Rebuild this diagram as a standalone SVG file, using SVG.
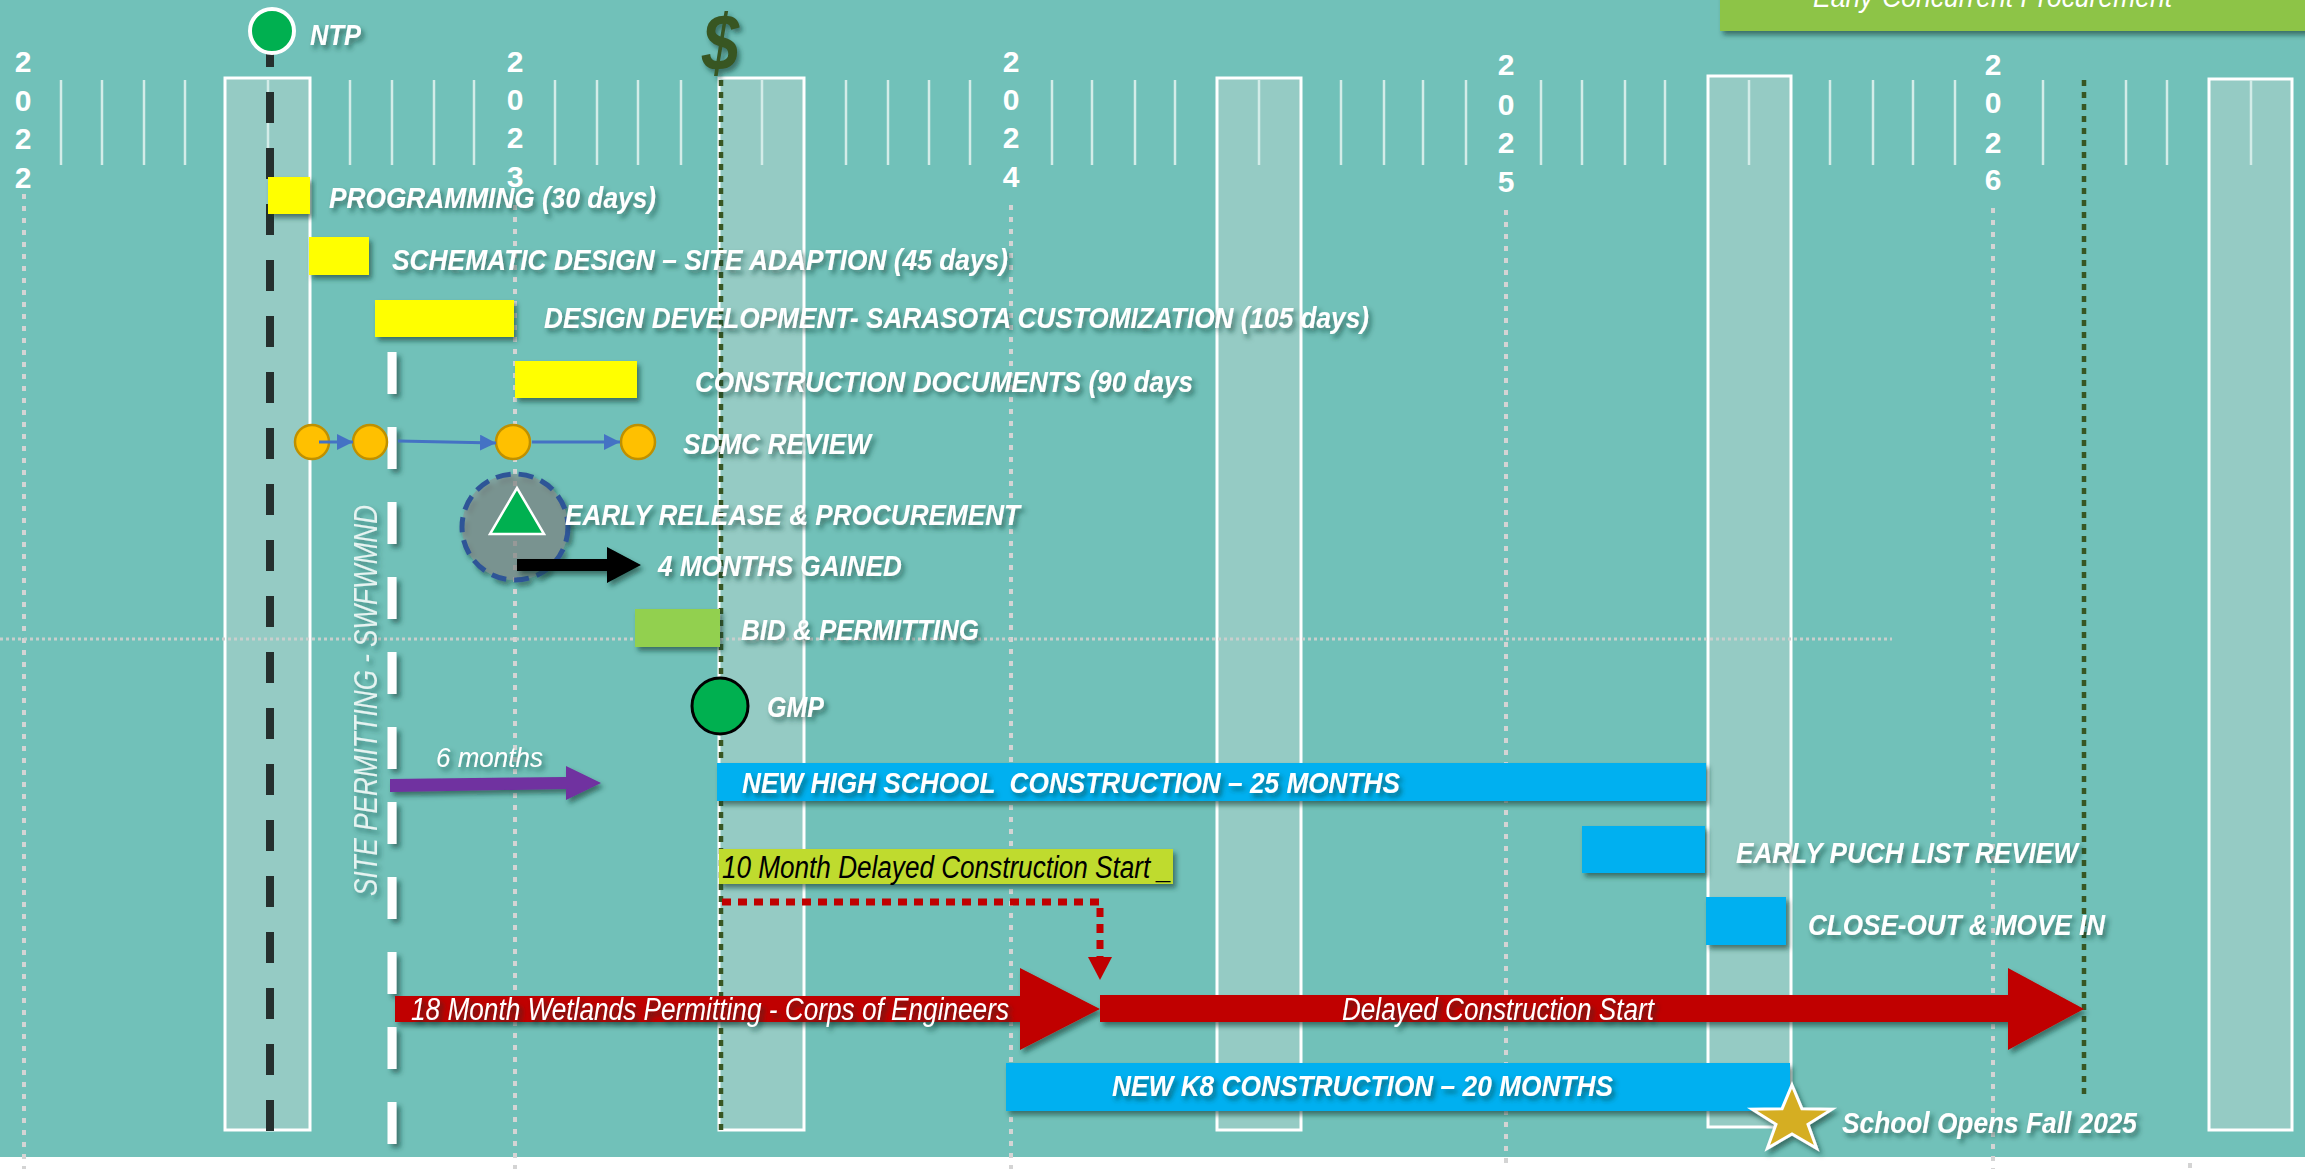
<svg xmlns="http://www.w3.org/2000/svg" width="2305" height="1169" viewBox="0 0 2305 1169">
<defs>
<style>
.lbl{font-family:"Liberation Sans Narrow","Liberation Sans",Arial,sans-serif;font-weight:bold;font-style:italic;font-size:30px;fill:#fff}
.ital{font-family:"Liberation Sans Narrow","Liberation Sans",Arial,sans-serif;font-style:italic;font-size:30px;fill:#fff}
.yr{font-family:"Liberation Sans",Arial,sans-serif;font-weight:bold;font-size:30px;fill:#fff;text-anchor:middle}
.tick{stroke:#d3ece8;stroke-width:2.5}
.band{fill:#95cbc4;stroke:#fff;stroke-width:3}
.ydot{stroke:#d4d4d4;stroke-width:4;stroke-dasharray:5 7;fill:none}
.gdot{stroke:#375623;stroke-width:4.5;stroke-dasharray:6 6;fill:none}
.blue{fill:#00b0f0}
.yel{fill:#ffff00}
.sdmc{fill:#ffc000;stroke:#bf9000;stroke-width:2.5}
.barrow{stroke:#4472c4;stroke-width:3;fill:none}
</style>
<filter id="sh" x="-10%" y="-40%" width="125%" height="200%">
<feDropShadow dx="3" dy="4" stdDeviation="2.5" flood-color="#163a35" flood-opacity="0.6"/>
</filter>
<filter id="shr" x="-10%" y="-40%" width="125%" height="200%">
<feDropShadow dx="-4" dy="3" stdDeviation="2.5" flood-color="#163a35" flood-opacity="0.5"/>
</filter>
<filter id="shl" filterUnits="userSpaceOnUse" x="0" y="0" width="2305" height="1169">
<feDropShadow dx="4" dy="4" stdDeviation="2.5" flood-color="#163a35" flood-opacity="0.55"/>
</filter>
<marker id="ah" markerUnits="userSpaceOnUse" markerWidth="16" markerHeight="16" refX="16" refY="8" orient="auto">
<path d="M0,0 L16,8 L0,16 z" fill="#4472c4"/>
</marker>
</defs>

<!-- background -->
<rect x="0" y="0" width="2305" height="1157" fill="#71c1b9"/>
<rect x="0" y="1157" width="2305" height="12" fill="#ffffff"/>

<!-- banner -->
<g id="banner">
<rect x="1720" y="-10" width="600" height="41" fill="#8dc447" filter="url(#sh)"/>
<text class="ital" x="1813" y="7" textLength="359" lengthAdjust="spacingAndGlyphs">Early-Concurrent Procurement</text>
</g>

<!-- shaded bands -->
<g id="bands">
<rect class="band" x="225" y="78" width="85" height="1052"/>
<rect class="band" x="719" y="78" width="85" height="1052"/>
<rect class="band" x="1217" y="78" width="84" height="1052"/>
<rect class="band" x="1708" y="76" width="83" height="1051"/>
<rect class="band" x="2209" y="79" width="83" height="1051"/>
</g>

<!-- month ticks -->
<g id="ticks">
<path class="tick" d="M61,80V165M102,80V165M144,80V165M185,80V165M268,80V165M350,80V165M392,80V165M434,80V165M474,80V165M555,80V165M597,80V165M638,80V165M681,80V165M762,80V165M846,80V165M888,80V165M929,80V165M970,80V165M1052,80V165M1092,80V165M1135,80V165M1175,80V165M1259,80V165M1341,80V165M1384,80V165M1423,80V165M1466,80V165M1541,80V165M1582,80V165M1625,80V165M1665,80V165M1749,80V165M1830,80V165M1873,80V165M1913,80V165M1955,80V165M2043,80V165M2126,80V165M2167,80V165M2251,80V165"/>
</g>

<!-- year labels -->
<g id="years">
<text class="yr" x="23" y="72">2</text><text class="yr" x="23" y="111">0</text><text class="yr" x="23" y="149">2</text><text class="yr" x="23" y="188">2</text>
<text class="yr" x="515" y="72">2</text><text class="yr" x="515" y="110">0</text><text class="yr" x="515" y="148">2</text><text class="yr" x="515" y="187">3</text>
<text class="yr" x="1011" y="72">2</text><text class="yr" x="1011" y="110">0</text><text class="yr" x="1011" y="148">2</text><text class="yr" x="1011" y="187">4</text>
<text class="yr" x="1506" y="75">2</text><text class="yr" x="1506" y="115">0</text><text class="yr" x="1506" y="153">2</text><text class="yr" x="1506" y="192">5</text>
<text class="yr" x="1993" y="75">2</text><text class="yr" x="1993" y="113">0</text><text class="yr" x="1993" y="153">2</text><text class="yr" x="1993" y="190">6</text>
</g>

<!-- guide lines -->
<g id="guides">
<path class="ydot" d="M24,194V1169M515,205V1169M1011,205V1169M1506,210V1169M1993,208V1169M2190,1163V1169"/>
<path d="M0,639H1892" stroke="#c9cfcd" stroke-width="3" stroke-dasharray="3 3"/>
<path class="gdot" d="M721,80V1130M2084,80V1095"/>
<path d="M270,36V1132" stroke="#25302e" stroke-width="8" stroke-dasharray="31 25"/>
<path d="M392,352V1145" stroke="#ffffff" stroke-width="9" stroke-dasharray="42 33" filter="url(#shl)"/>
</g>

<g id="site-permitting">
<text class="ital" transform="translate(377,896) rotate(-90)" x="0" y="0" style="font-size:34px;fill:#e6f3f1" textLength="391" lengthAdjust="spacingAndGlyphs" filter="url(#shr)">SITE PERMITTING - SWFWMND</text>
</g>

<!-- milestones -->
<g id="ntp">
<circle cx="272" cy="31" r="22" fill="#00b050" stroke="#fff" stroke-width="4"/>
<text class="lbl" x="310" y="45" textLength="51" lengthAdjust="spacingAndGlyphs" filter="url(#sh)">NTP</text>
</g>
<g id="dollar">
<text x="702" y="70" textLength="37" lengthAdjust="spacingAndGlyphs" style="font-family:'Liberation Sans',Arial,sans-serif;font-weight:bold;font-style:italic;font-size:80px;fill:#375623" filter="url(#sh)">$</text>
</g>

<g id="programming">
<rect class="yel" x="268" y="177" width="42" height="37" filter="url(#sh)"/>
<text class="lbl" x="329" y="208" textLength="327" lengthAdjust="spacingAndGlyphs" filter="url(#sh)">PROGRAMMING (30 days)</text>
</g>
<g id="schematic">
<rect class="yel" x="309" y="237" width="60" height="38" filter="url(#sh)"/>
<text class="lbl" x="392" y="270" textLength="616" lengthAdjust="spacingAndGlyphs" filter="url(#sh)">SCHEMATIC DESIGN – SITE ADAPTION (45 days)</text>
</g>
<g id="design-development">
<rect class="yel" x="375" y="300" width="139" height="37" filter="url(#sh)"/>
<text class="lbl" x="544" y="328" textLength="825" lengthAdjust="spacingAndGlyphs" filter="url(#sh)">DESIGN DEVELOPMENT- SARASOTA CUSTOMIZATION (105 days)</text>
</g>
<g id="construction-docs">
<rect class="yel" x="515" y="361" width="122" height="37" filter="url(#sh)"/>
<text class="lbl" x="695" y="392" textLength="498" lengthAdjust="spacingAndGlyphs" filter="url(#sh)">CONSTRUCTION DOCUMENTS (90 days</text>
</g>

<g id="sdmc">
<circle class="sdmc" cx="312" cy="442" r="17"/>
<circle class="sdmc" cx="370" cy="442" r="17"/>
<circle class="sdmc" cx="513" cy="442" r="17"/>
<circle class="sdmc" cx="638" cy="442" r="17"/>
<text class="lbl" x="683" y="454" textLength="188" lengthAdjust="spacingAndGlyphs" filter="url(#sh)">SDMC REVIEW</text>
</g>

<g id="connectors">
<path class="barrow" d="M319,442H353" marker-end="url(#ah)"/>
<path class="barrow" d="M398,441L496,443" marker-end="url(#ah)"/>
<path class="barrow" d="M532,442H620" marker-end="url(#ah)"/>
<path d="M722,902H1100V958" stroke="#c00000" stroke-width="7" stroke-dasharray="9 7" fill="none"/>
<polygon points="1088,957 1112,957 1100,980" fill="#c00000"/>
</g>

<g id="early-release">
<circle cx="515" cy="527" r="53" fill="#8a8a8a" fill-opacity="0.55" stroke="#2f5597" stroke-width="5" stroke-dasharray="15 8" filter="url(#sh)"/>
<polygon points="517,488 490,534 544,534" fill="#00b050" stroke="#fff" stroke-width="2.5"/>
<text class="lbl" x="565" y="525" textLength="455" lengthAdjust="spacingAndGlyphs" filter="url(#sh)">EARLY RELEASE &amp; PROCUREMENT</text>
</g>
<g id="months-gained">
<polygon points="517,559 607,559 607,547 641,565 607,583 607,571 517,571" fill="#000" filter="url(#sh)"/>
<text class="lbl" x="658" y="576" textLength="244" lengthAdjust="spacingAndGlyphs" filter="url(#sh)">4 MONTHS GAINED</text>
</g>

<g id="bid">
<rect x="635" y="609" width="85" height="38" fill="#92d050" filter="url(#sh)"/>
<text class="lbl" x="741" y="640" textLength="238" lengthAdjust="spacingAndGlyphs" filter="url(#sh)">BID &amp; PERMITTING</text>
</g>

<g id="gmp">
<circle cx="720" cy="706" r="28" fill="#00b050" stroke="#000" stroke-width="3"/>
<text class="lbl" x="767" y="717" textLength="57" lengthAdjust="spacingAndGlyphs" filter="url(#sh)">GMP</text>
</g>

<g id="six-months">
<polygon points="390,779 566,777 566,766 601,783 566,800 566,789 390,792" fill="#7030a0" filter="url(#sh)"/>
<text class="ital" x="436" y="767" style="font-size:28px" textLength="107" lengthAdjust="spacingAndGlyphs" filter="url(#sh)">6 months</text>
</g>

<g id="high-school">
<rect class="blue" x="717" y="763" width="989" height="38" filter="url(#sh)"/>
<text class="lbl" x="742" y="793" style="white-space:pre" textLength="658" lengthAdjust="spacingAndGlyphs" filter="url(#sh)">NEW HIGH SCHOOL  CONSTRUCTION – 25 MONTHS</text>
</g>

<g id="delayed-note">
<rect x="719" y="849" width="454" height="35" fill="#bfdb2e" filter="url(#sh)"/>
<text class="ital" x="722" y="878" style="fill:#000;font-size:31px" textLength="450" lengthAdjust="spacingAndGlyphs">10 Month Delayed Construction Start _</text>
</g>

<g id="punch-list">
<rect class="blue" x="1582" y="826" width="123" height="47" filter="url(#sh)"/>
<text class="lbl" x="1736" y="863" textLength="342" lengthAdjust="spacingAndGlyphs" filter="url(#sh)">EARLY PUCH LIST REVIEW</text>
</g>
<g id="close-out">
<rect class="blue" x="1706" y="897" width="80" height="48" filter="url(#sh)"/>
<text class="lbl" x="1808" y="935" textLength="297" lengthAdjust="spacingAndGlyphs" filter="url(#sh)">CLOSE-OUT &amp; MOVE IN</text>
</g>

<g id="wetlands">
<polygon points="395,996 1020,996 1020,968 1100,1009 1020,1050 1020,1022 395,1022" fill="#c00000" filter="url(#sh)"/>
<text class="ital" x="411" y="1020" style="font-size:31px" textLength="598" lengthAdjust="spacingAndGlyphs" filter="url(#sh)">18 Month Wetlands Permitting - Corps of Engineers</text>
</g>
<g id="delayed-start">
<polygon points="1100,995 2008,995 2008,968 2084,1009 2008,1050 2008,1022 1100,1022" fill="#c00000" filter="url(#sh)"/>
<text class="ital" x="1342" y="1020" style="font-size:31px" textLength="312" lengthAdjust="spacingAndGlyphs" filter="url(#sh)">Delayed Construction Start</text>
</g>

<g id="k8">
<rect class="blue" x="1006" y="1063" width="784" height="48" filter="url(#sh)"/>
<text class="lbl" x="1112" y="1096" textLength="501" lengthAdjust="spacingAndGlyphs" filter="url(#sh)">NEW K8 CONSTRUCTION – 20 MONTHS</text>
</g>

<g id="school-opens">
<polygon points="1792,1085 1801.9,1108.7 1832,1109.2 1808,1124.3 1816.7,1148.3 1792,1134 1767.3,1148.3 1776,1124.3 1752,1109.2 1782.1,1108.7" fill="#d5ae22" stroke="#fff" stroke-width="3" filter="url(#sh)"/>
<text class="lbl" x="1842" y="1133" textLength="295" lengthAdjust="spacingAndGlyphs" filter="url(#sh)">School Opens Fall 2025</text>
</g>
</svg>
